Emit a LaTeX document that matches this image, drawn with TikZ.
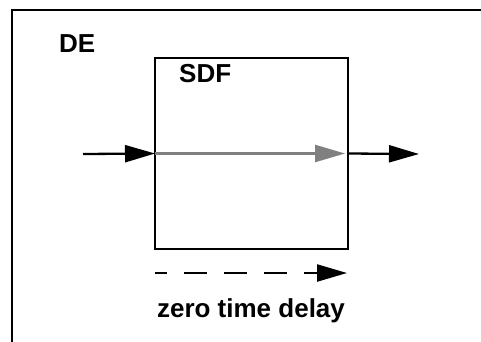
\documentclass[tikz,border=0pt]{standalone}
\usepackage{fontspec}
\setmainfont{Liberation Sans}
\usetikzlibrary{arrows.meta}
\usetikzlibrary{positioning}

\tikzset{
    blk/.style={draw, line width=2.5pt, minimum width=193pt, minimum height=191pt, inner sep=0pt, outer sep=0pt},
    lbl/.style={font=\fontsize{26}{30}\selectfont\bfseries, inner sep=0pt},
    flow/.style={line width=2.3pt, -{Triangle[length=30pt, width=17pt]}},
}

\begin{document}
\begin{tikzpicture}[x=1pt, y=-1pt]
    \useasboundingbox (0, 0) rectangle (481, 341);
    \clip (0, 0) rectangle (481, 341);
    \draw[line width=2.5pt] (12, 10) rectangle (500, 360);
    \node[lbl, anchor=base west] (de) at (59, 52) {DE};

    \node[blk] (sdf) at (251.5, 153.5) {};
    \node[lbl, anchor=base west] (sdflbl) at (179, 82) {SDF};

    \coordinate (in) at (83, 154);
    \coordinate (out) at (419, 154);
    \draw[flow] (in) -- (sdf.west);
    \draw[flow, gray] (sdf.west) -- ([xshift=-3pt]sdf.east);
    \draw[flow] (sdf.east) -- (out);

    % delay arrow under the box
    \coordinate (dstart) at ([yshift=-24pt]sdf.south west);
    \coordinate (dend) at ([yshift=-24pt, xshift=-1pt]sdf.south east);
    \draw[flow, dash pattern=on 23pt off 17pt, dash phase=11pt] (dstart) -- (dend);
    \node[lbl, anchor=base] (delay) at (251, 317) {zero time delay};
\end{tikzpicture}
\end{document}
